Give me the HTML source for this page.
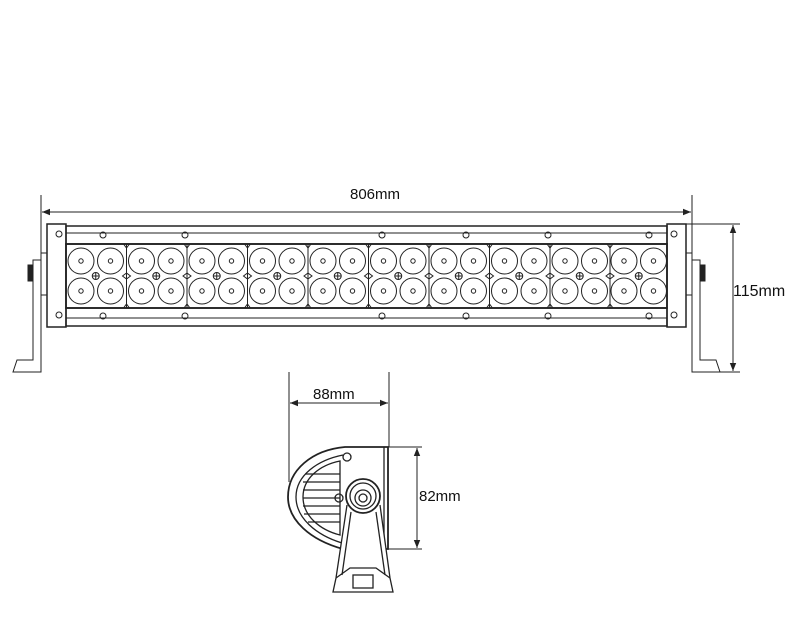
<!DOCTYPE html>
<html><head><style>body{margin:0;background:#fff}svg{display:block}</style></head><body>
<svg width="800" height="640" viewBox="0 0 800 640" xmlns="http://www.w3.org/2000/svg" font-family="Liberation Sans, sans-serif">
<defs>
<marker id="a" viewBox="0 0 10 10" refX="10" refY="5" markerWidth="10" markerHeight="8" orient="auto-start-reverse" markerUnits="userSpaceOnUse"><path d="M0,1 L10,5 L0,9 Z" fill="#222"/></marker>
<g id="col" stroke="#222" fill="none" stroke-width="1">
<circle cx="0" cy="261" r="13"/><circle cx="0" cy="261" r="2.2"/>
<circle cx="0" cy="291" r="13"/><circle cx="0" cy="291" r="2.2"/>
</g>
<g id="grp" stroke="#222" fill="none" stroke-width="1">
<use href="#col" x="0"/><use href="#col" x="29.5"/>
<circle cx="14.75" cy="276" r="3.5"/><path d="M11.25,276h7M14.75,272.5v7"/>
</g>
<g id="sep" stroke="#222" fill="none" stroke-width="1">
<line x1="0" y1="244" x2="0" y2="308"/><path d="M-4,276l4,-3l4,3l-4,3z"/>
<path d="M-3,244l3,4l3,-4M-3,308l3,-4l3,4"/>
</g>
</defs>
<g stroke="#222" fill="none" stroke-width="1">
<line x1="41" y1="195" x2="41" y2="372"/>
<line x1="692" y1="195" x2="692" y2="372"/>
<line x1="42" y1="212" x2="691" y2="212" marker-start="url(#a)" marker-end="url(#a)"/>
<line x1="686" y1="224" x2="740" y2="224"/>
<line x1="700" y1="372" x2="740" y2="372"/>
<line x1="733" y1="225" x2="733" y2="371" marker-start="url(#a)" marker-end="url(#a)"/>
<rect x="66" y="226" width="601" height="18" stroke-width="1.5"/>
<line x1="66" y1="233" x2="667" y2="233"/>
<rect x="66" y="244" width="601" height="64" stroke-width="1.8"/>
<rect x="66" y="308" width="601" height="18" stroke-width="1.5"/>
<line x1="66" y1="318" x2="667" y2="318"/>
<rect x="47" y="224" width="19" height="103" stroke-width="1.5"/>
<rect x="667" y="224" width="19" height="103" stroke-width="1.5"/>
<circle cx="59" cy="234" r="3"/><circle cx="59" cy="315" r="3"/>
<circle cx="674" cy="234" r="3"/><circle cx="674" cy="315" r="3"/>
<rect x="41" y="253" width="6" height="42"/>
<rect x="686" y="253" width="6" height="42"/>
<path d="M41,295 L41,372 L13,372 L17,360 L33,360 L33,260 L41,260"/>
<path d="M692,295 L692,372 L720,372 L716,360 L700,360 L700,260 L692,260"/>
<rect x="28" y="265" width="5" height="16" fill="#222"/>
<rect x="700" y="265" width="5" height="16" fill="#222"/>
<circle cx="103" cy="235" r="3"/><circle cx="185" cy="235" r="3"/><circle cx="382" cy="235" r="3"/><circle cx="466" cy="235" r="3"/><circle cx="548" cy="235" r="3"/><circle cx="649" cy="235" r="3"/>
<circle cx="103" cy="316" r="3"/><circle cx="185" cy="316" r="3"/><circle cx="382" cy="316" r="3"/><circle cx="466" cy="316" r="3"/><circle cx="548" cy="316" r="3"/><circle cx="649" cy="316" r="3"/>
</g>
<use href="#grp" x="81"/><use href="#grp" x="141.5"/><use href="#grp" x="202"/><use href="#grp" x="262.5"/><use href="#grp" x="323"/>
<use href="#grp" x="383.5"/><use href="#grp" x="444"/><use href="#grp" x="504.5"/><use href="#grp" x="565"/><use href="#grp" x="624"/>
<use href="#sep" x="126.5"/><use href="#sep" x="187"/><use href="#sep" x="247.5"/><use href="#sep" x="308"/><use href="#sep" x="368.5"/>
<use href="#sep" x="429"/><use href="#sep" x="489.5"/><use href="#sep" x="550"/><use href="#sep" x="610"/>
<g stroke="#222" fill="none" stroke-width="1.3">
<line x1="289" y1="372" x2="289" y2="482" stroke-width="1"/>
<line x1="389" y1="372" x2="389" y2="447" stroke-width="1"/>
<line x1="290" y1="403" x2="388" y2="403" stroke-width="1" marker-start="url(#a)" marker-end="url(#a)"/>
<line x1="388" y1="447" x2="422" y2="447" stroke-width="1"/>
<line x1="388" y1="549" x2="422" y2="549" stroke-width="1"/>
<line x1="417" y1="448" x2="417" y2="548" stroke-width="1" marker-start="url(#a)" marker-end="url(#a)"/>
<path d="M388,447 L388,549 L343,549 C310,540 288,520 288,497 C288,470 312,450 345,447 Z" stroke-width="1.8"/>
<line x1="384" y1="447" x2="384" y2="549"/>
<path d="M343,455 C318,460 296,475 296,497 C296,518 316,535 342,543"/>
<path d="M340,461 C320,465 303,478 303,497 C303,516 320,530 340,535 Z"/>
<line x1="305" y1="474" x2="340" y2="474"/><line x1="303" y1="482" x2="340" y2="482"/><line x1="303" y1="490" x2="340" y2="490"/><line x1="303" y1="498" x2="340" y2="498"/><line x1="303" y1="506" x2="340" y2="506"/><line x1="304" y1="514" x2="340" y2="514"/><line x1="308" y1="522" x2="340" y2="522"/>
<circle cx="347" cy="457" r="4"/><circle cx="339" cy="498" r="4"/>
<path d="M347,505 L336,578 L333,592 L393,592 L390,578 L380,505" fill="#fff"/>
<path d="M351,512 L342,575 M376,512 L385,575"/>
<path d="M336,578 L350,568 L376,568 L390,578"/>
<rect x="353" y="575" width="20" height="13"/>
<circle cx="363" cy="496" r="17" fill="#fff" stroke-width="1.8"/>
<circle cx="363" cy="496" r="13"/>
<circle cx="363" cy="498" r="8"/>
<circle cx="363" cy="498" r="4"/>
</g>
<g font-size="15" fill="#111">
<text x="375" y="199" text-anchor="middle">806mm</text>
<text x="733" y="296" font-size="16">115mm</text>
<text x="313" y="399">88mm</text>
<text x="419" y="501">82mm</text>
</g>
</svg>
</body></html>
